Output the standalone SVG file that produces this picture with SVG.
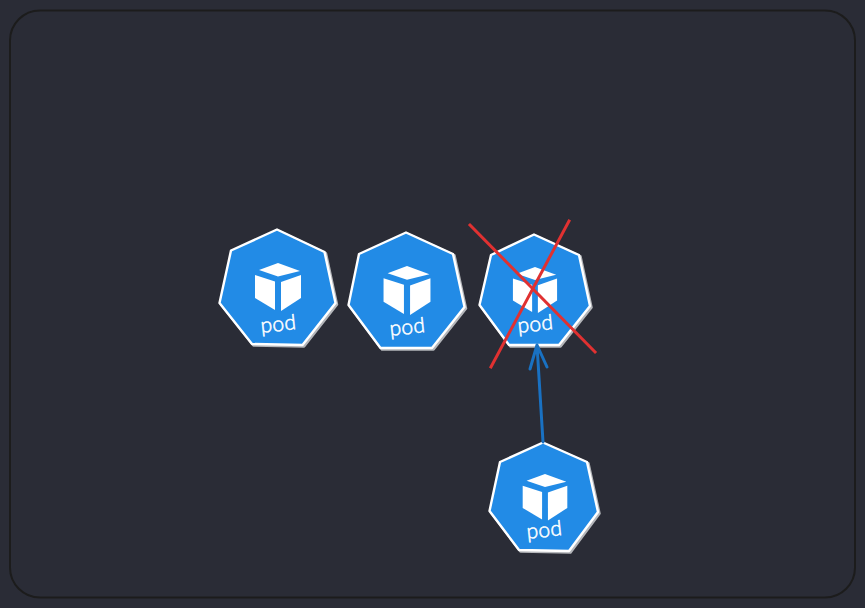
<svg xmlns="http://www.w3.org/2000/svg" width="865" height="608" viewBox="0 0 865 608">
  <style>
    .shadow { fill: #b4b6ba; stroke: #b4b6ba; stroke-width: 2.5; stroke-linejoin: round; }
    .hex { fill: #228be6; stroke: #ffffff; stroke-width: 2.4; stroke-linejoin: round; }
    .cube { fill: #ffffff; }
    .label { font-family: "Lato", "Noto Sans", sans-serif; font-weight: 300; font-size: 21px; letter-spacing: 0.3px; fill: #ffffff; text-anchor: middle; stroke: #ffffff; stroke-width: 0.55; }
    .cross { fill: none; stroke: #e03131; stroke-width: 3; stroke-linecap: square; }
    .arrow { fill: none; stroke: #1971c2; stroke-width: 3; stroke-linecap: round; stroke-linejoin: round; }
  </style>
  <defs>
    <g id="cube">
      <polygon points="0,0 22,8 0,13.500 -19,7"/>
      <polygon points="-23,12 -3,18.500 -3,47 -23,35"/>
      <polygon points="3,19 23,12 23,35 3,48"/>
    </g>
  </defs>
  <rect width="865" height="608" fill="#2a2c36"/>
  <rect id="frame" x="10" y="10.5" width="845" height="587" rx="30" ry="30" fill="#2a2c36" stroke="#1c1c1c" stroke-width="2"/>

  <g id="pod1">
    <polygon class="shadow" transform="translate(1.500,1.500)" points="277,229.500 324.500,252 335.500,303 302.500,345 252,344 219.500,303 231,250.500"/>
    <polygon class="hex" points="277,229.500 324.500,252 335.500,303 302.500,345 252,344 219.500,303 231,250.500"/>
    <use href="#cube" class="cube" transform="translate(278,263)"/>
    <text class="label" transform="translate(279,331) rotate(-6)">pod</text>
  </g>

  <g id="pod2">
    <polygon class="shadow" transform="translate(1.500,1.500)" points="406,232.500 453,254 464.500,307 432,348 380.500,348 348.500,305 359,254"/>
    <polygon class="hex" points="406,232.500 453,254 464.500,307 432,348 380.500,348 348.500,305 359,254"/>
    <use href="#cube" class="cube" transform="translate(407,266) scale(1.02)"/>
    <text class="label" transform="translate(408,334) rotate(-6)">pod</text>
  </g>

  <g id="pod3">
    <polygon class="shadow" transform="translate(1.500,1.500)" points="534,234.500 579,255 590,306 559,345 509,345 479.500,305 491,255"/>
    <polygon class="hex" points="534,234.500 579,255 590,306 559,345 509,345 479.500,305 491,255"/>
    <use href="#cube" class="cube" transform="translate(535,267) scale(0.96)"/>
    <text class="label" transform="translate(536,331) rotate(-6)">pod</text>
  </g>

  <g id="pod4">
    <polygon class="shadow" transform="translate(1.500,1.500)" points="543,442.500 587,462 598,512 569,551 519,550 489.500,511 500,462"/>
    <polygon class="hex" points="543,442.500 587,462 598,512 569,551 519,550 489.500,511 500,462"/>
    <use href="#cube" class="cube" transform="translate(545,474) scale(0.97)"/>
    <text class="label" transform="translate(545,537) rotate(-6)">pod</text>
  </g>

  <g id="connectors">
    <line class="cross" x1="470" y1="225" x2="595" y2="352"/>
    <line class="cross" x1="569" y1="221" x2="491" y2="367"/>
    <path class="arrow" d="M543,442 L537,345 M530,369 L537,345 L547,367"/>
  </g>
</svg>
